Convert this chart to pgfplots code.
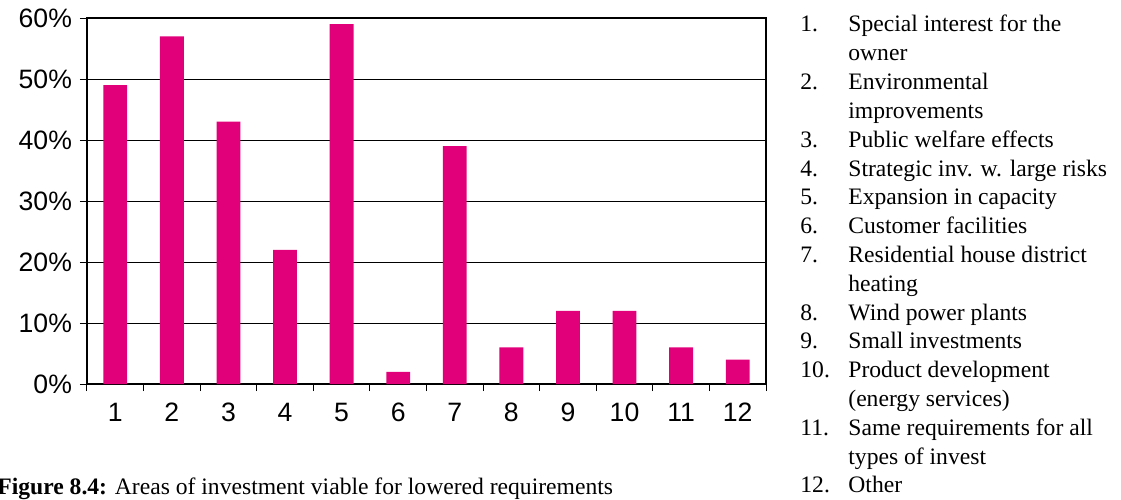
\documentclass[border=0pt]{standalone}
\usepackage{pgfplots}
\pgfplotsset{compat=1.18}
\usepackage{fontspec}
\setmainfont{Liberation Serif}
\setsansfont{Liberation Sans}
\definecolor{barpink}{RGB}{226,0,122}

\begin{document}
\begin{tikzpicture}
\useasboundingbox (-43.5pt,-57.5pt) rectangle (517pt,192pt);
\begin{axis}[
  at={(0,0)}, anchor=south west,
  width=339.5pt, height=183pt, scale only axis,
  xmin=0.5, xmax=12.5, ymin=0, ymax=60,
  xtick={1,...,12},
  minor xtick={0.5,1.5,...,12.5},
  ytick={0,10,...,60},
  yticklabel={\pgfmathprintnumber{\tick}\%},
  xtick pos=bottom, ytick pos=left,
  tick align=outside,
  major tick length=3.5pt,
  minor tick length=3.5pt,
  x tick style={draw=none},
  minor x tick style={draw=black, line width=0.5pt},
  y tick style={black, line width=0.5pt},
  ymajorgrids,
  grid style={black, line width=0.5pt},
  axis line style={black, line width=0.6pt},
  /pgf/number format/assume math mode=true,
  tick label style={font=\sffamily\fontsize{13.3}{14}\selectfont},
  xticklabel style={yshift=-2.5pt},
  yticklabel style={xshift=-0.5pt},
  ybar, bar width=0.42,
]
\addplot[fill=barpink, draw=none] coordinates {
  (1,49) (2,57) (3,43) (4,22) (5,59) (6,2)
  (7,39) (8,6) (9,12) (10,12) (11,6) (12,4)
};
\end{axis}

% numbered key to the categories
\begin{scope}[font=\fontsize{11.8}{13}\selectfont]
\foreach \n/\t [count=\i from 0] in {
  1./Special interest for the,
  /owner,
  2./Environmental,
  /improvements,
  3./Public welfare effects,
  4./Strategic inv. w. large risks,
  5./Expansion in capacity,
  6./Customer facilities,
  7./Residential house district,
  /heating,
  8./Wind power plants,
  9./Small investments,
  10./Product development,
  /(energy services),
  11./Same requirements for all,
  /types of invest,
  12./Other}
{
  \node[anchor=base west, inner sep=0pt] at (356.5pt, 176pt-14.4pt*\i) {\n};
  \node[anchor=base west, inner sep=0pt] at (380.5pt, 176pt-14.4pt*\i) {\t};
}
\node[anchor=base west, inner sep=0pt, font=\fontsize{11.8}{13}\selectfont]
  at (-45pt,-55pt) {\textbf{Figure 8.4:} Areas of investment viable for lowered requirements};
\end{scope}
\end{tikzpicture}
\end{document}
